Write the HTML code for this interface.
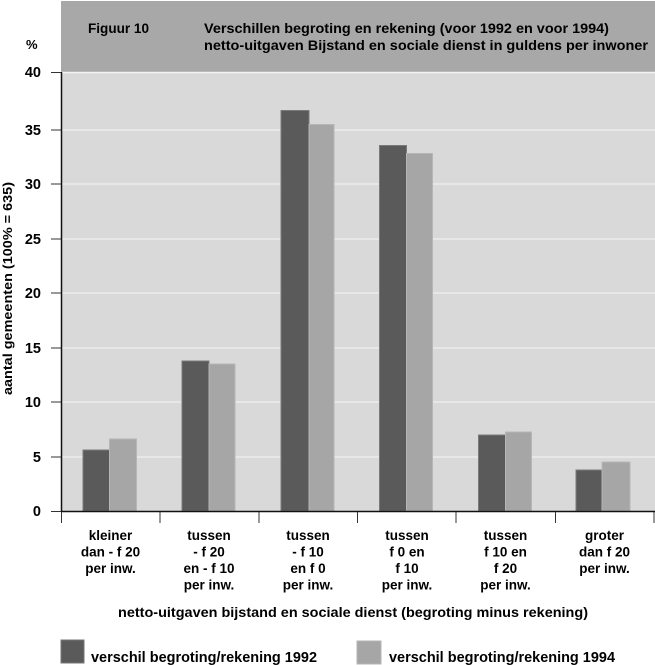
<!DOCTYPE html>
<html>
<head>
<meta charset="utf-8">
<style>
  html,body{margin:0;padding:0;background:#fff;}
  svg{display:block;}
  text{font-family:"Liberation Sans",Arial,sans-serif;font-weight:bold;fill:#000;}
</style>
</head>
<body>
<svg width="655" height="665" viewBox="0 0 655 665" xmlns="http://www.w3.org/2000/svg">
  <rect x="0" y="0" width="655" height="665" fill="#ffffff"/>
  <!-- header -->
  <rect x="61" y="1" width="594" height="71" fill="#a8a8a8"/>
  <text x="88" y="33" font-size="13.5" textLength="61" lengthAdjust="spacingAndGlyphs">Figuur 10</text>
  <text x="204" y="33" font-size="13.5" textLength="405" lengthAdjust="spacingAndGlyphs">Verschillen begroting en rekening (voor 1992 en voor 1994)</text>
  <text x="204" y="50" font-size="13.5" textLength="444" lengthAdjust="spacingAndGlyphs">netto-uitgaven Bijstand en sociale dienst in guldens per inwoner</text>
  <text x="26" y="49" font-size="13">%</text>

  <!-- plot area -->
  <rect x="61" y="72" width="594" height="440" fill="#d9d9d9"/>
  <line x1="61" y1="72.5" x2="655" y2="72.5" stroke="#f4f4f4" stroke-width="1.5"/>
  <g stroke="#f0f0f0" stroke-width="1.3">
    <line x1="62" y1="130" x2="655" y2="130"/>
    <line x1="62" y1="184" x2="655" y2="184"/>
    <line x1="62" y1="239" x2="655" y2="239"/>
    <line x1="62" y1="293" x2="655" y2="293"/>
    <line x1="62" y1="348" x2="655" y2="348"/>
    <line x1="62" y1="402" x2="655" y2="402"/>
    <line x1="62" y1="457" x2="655" y2="457"/>
  </g>

  <!-- bars -->
  <g>
    <rect x="83" y="450" width="26.5" height="61" fill="#5a5a5a" stroke="#7a7a7a" stroke-width="1"/>
    <rect x="109.5" y="439" width="27" height="72" fill="#a6a6a6" stroke="#b6b6b6" stroke-width="1"/>
    <rect x="182" y="361" width="27" height="150" fill="#5a5a5a" stroke="#7a7a7a" stroke-width="1"/>
    <rect x="209" y="364" width="26" height="147" fill="#a6a6a6" stroke="#b6b6b6" stroke-width="1"/>
    <rect x="281" y="110.5" width="28" height="400.5" fill="#5a5a5a" stroke="#7a7a7a" stroke-width="1"/>
    <rect x="309" y="124.5" width="25" height="386.5" fill="#a6a6a6" stroke="#b6b6b6" stroke-width="1"/>
    <rect x="379.5" y="145.5" width="27" height="365.5" fill="#5a5a5a" stroke="#7a7a7a" stroke-width="1"/>
    <rect x="406.5" y="153.5" width="26" height="357.5" fill="#a6a6a6" stroke="#b6b6b6" stroke-width="1"/>
    <rect x="478.5" y="435" width="27" height="76" fill="#5a5a5a" stroke="#7a7a7a" stroke-width="1"/>
    <rect x="505.5" y="432" width="26" height="79" fill="#a6a6a6" stroke="#b6b6b6" stroke-width="1"/>
    <rect x="576" y="470" width="26" height="41" fill="#5a5a5a" stroke="#7a7a7a" stroke-width="1"/>
    <rect x="602" y="462" width="28" height="49" fill="#a6a6a6" stroke="#b6b6b6" stroke-width="1"/>
  </g>

  <!-- axes -->
  <line x1="61.5" y1="72" x2="61.5" y2="512" stroke="#111" stroke-width="1.5"/>
  <line x1="61" y1="511.5" x2="655" y2="511.5" stroke="#111" stroke-width="1.5"/>
  <g stroke="#333" stroke-width="1">
    <line x1="51" y1="72.5" x2="61" y2="72.5"/>
    <line x1="51" y1="130" x2="61" y2="130"/>
    <line x1="51" y1="184" x2="61" y2="184"/>
    <line x1="51" y1="239" x2="61" y2="239"/>
    <line x1="51" y1="293" x2="61" y2="293"/>
    <line x1="51" y1="348" x2="61" y2="348"/>
    <line x1="51" y1="402" x2="61" y2="402"/>
    <line x1="51" y1="457" x2="61" y2="457"/>
    <line x1="51" y1="511.5" x2="61" y2="511.5"/>
    <line x1="61.5" y1="512" x2="61.5" y2="523"/>
    <line x1="160" y1="512" x2="160" y2="523"/>
    <line x1="259" y1="512" x2="259" y2="523"/>
    <line x1="357.5" y1="512" x2="357.5" y2="523"/>
    <line x1="456" y1="512" x2="456" y2="523"/>
    <line x1="555.5" y1="512" x2="555.5" y2="523"/>
    <line x1="654" y1="512" x2="654" y2="523"/>
  </g>

  <!-- y tick labels -->
  <g font-size="14.5" text-anchor="end">
    <text x="41" y="77">40</text>
    <text x="41" y="135">35</text>
    <text x="41" y="189">30</text>
    <text x="41" y="244">25</text>
    <text x="41" y="298">20</text>
    <text x="41" y="353">15</text>
    <text x="41" y="407">10</text>
    <text x="41" y="462">5</text>
    <text x="41" y="516">0</text>
  </g>

  <!-- y axis title -->
  <text transform="translate(12,288.5) rotate(-90)" font-size="13" text-anchor="middle" textLength="213" lengthAdjust="spacingAndGlyphs">aantal gemeenten (100% = 635)</text>

  <!-- category labels -->
  <g font-size="13.5" text-anchor="middle">
    <text x="110.5" y="540">kleiner</text>
    <text x="110.5" y="556.5">dan - f 20</text>
    <text x="110.5" y="573">per inw.</text>

    <text x="209" y="540">tussen</text>
    <text x="209" y="556.5">- f 20</text>
    <text x="209" y="573">en - f 10</text>
    <text x="209" y="589.5">per inw.</text>

    <text x="308" y="540">tussen</text>
    <text x="308" y="556.5">- f 10</text>
    <text x="308" y="573">en f 0</text>
    <text x="308" y="589.5">per inw.</text>

    <text x="407" y="540">tussen</text>
    <text x="407" y="556.5">f 0 en</text>
    <text x="407" y="573">f 10</text>
    <text x="407" y="589.5">per inw.</text>

    <text x="505.5" y="540">tussen</text>
    <text x="505.5" y="556.5">f 10 en</text>
    <text x="505.5" y="573">f 20</text>
    <text x="505.5" y="589.5">per inw.</text>

    <text x="604.5" y="540">groter</text>
    <text x="604.5" y="556.5">dan f 20</text>
    <text x="604.5" y="573">per inw.</text>
  </g>

  <!-- x axis title -->
  <text x="118" y="617" font-size="14" textLength="470" lengthAdjust="spacingAndGlyphs">netto-uitgaven bijstand en sociale dienst (begroting minus rekening)</text>

  <!-- legend -->
  <rect x="61" y="640" width="23" height="23" fill="#5a5a5a" stroke="#777" stroke-width="1"/>
  <text x="91" y="662" font-size="14.5" textLength="226" lengthAdjust="spacingAndGlyphs">verschil begroting/rekening 1992</text>
  <rect x="357" y="641" width="24" height="23" fill="#a6a6a6" stroke="#b6b6b6" stroke-width="1"/>
  <text x="389" y="662" font-size="14.5" textLength="226" lengthAdjust="spacingAndGlyphs">verschil begroting/rekening 1994</text>
</svg>
</body>
</html>
